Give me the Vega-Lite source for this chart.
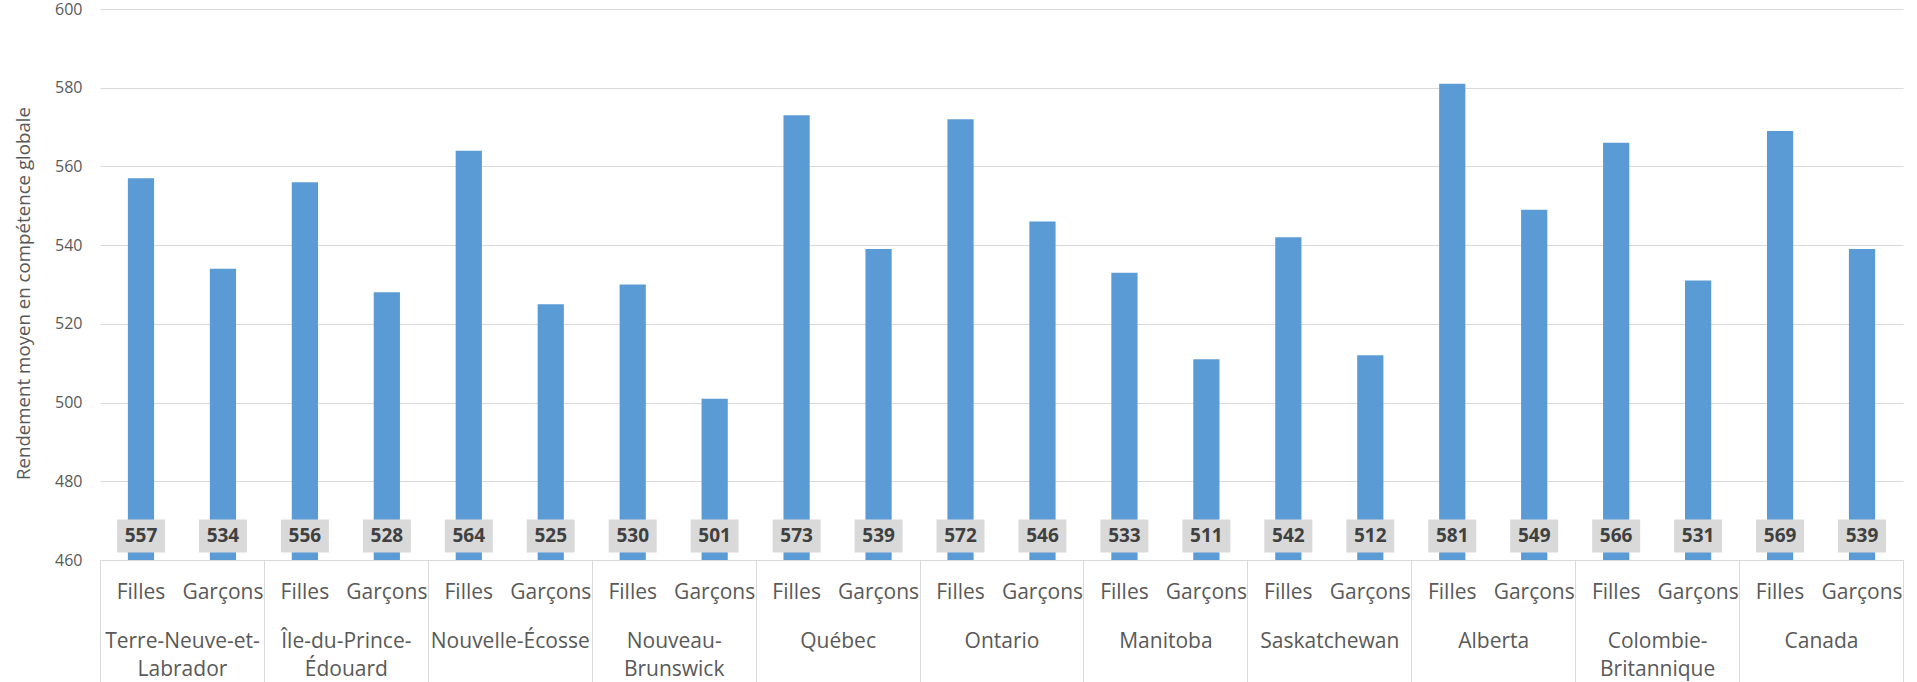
{
  "$schema": "https://vega.github.io/schema/vega-lite/v6.json",
  "autosize": {"type": "none"},
  "width": 1803,
  "height": 551,
  "padding": {"left": 100, "top": 9, "right": 14, "bottom": 122},
  "config": {
    "font": "Open Sans",
    "view": {"stroke": null},
    "axis": {"labelColor": "#595959", "titleColor": "#595959"}
  },
  "data": {
    "values": [
      {"province": "Terre-Neuve-et-Labrador", "sexe": "Filles", "score": 557},
      {"province": "Terre-Neuve-et-Labrador", "sexe": "Garçons", "score": 534},
      {"province": "Île-du-Prince-Édouard", "sexe": "Filles", "score": 556},
      {"province": "Île-du-Prince-Édouard", "sexe": "Garçons", "score": 528},
      {"province": "Nouvelle-Écosse", "sexe": "Filles", "score": 564},
      {"province": "Nouvelle-Écosse", "sexe": "Garçons", "score": 525},
      {"province": "Nouveau-Brunswick", "sexe": "Filles", "score": 530},
      {"province": "Nouveau-Brunswick", "sexe": "Garçons", "score": 501},
      {"province": "Québec", "sexe": "Filles", "score": 573},
      {"province": "Québec", "sexe": "Garçons", "score": 539},
      {"province": "Ontario", "sexe": "Filles", "score": 572},
      {"province": "Ontario", "sexe": "Garçons", "score": 546},
      {"province": "Manitoba", "sexe": "Filles", "score": 533},
      {"province": "Manitoba", "sexe": "Garçons", "score": 511},
      {"province": "Saskatchewan", "sexe": "Filles", "score": 542},
      {"province": "Saskatchewan", "sexe": "Garçons", "score": 512},
      {"province": "Alberta", "sexe": "Filles", "score": 581},
      {"province": "Alberta", "sexe": "Garçons", "score": 549},
      {"province": "Colombie-Britannique", "sexe": "Filles", "score": 566},
      {"province": "Colombie-Britannique", "sexe": "Garçons", "score": 531},
      {"province": "Canada", "sexe": "Filles", "score": 569},
      {"province": "Canada", "sexe": "Garçons", "score": 539}
    ]
  },
  "transform": [
    {"calculate": "datum.province + '|' + datum.sexe", "as": "barre"}
  ],
  "layer": [
    {
      "encoding": {
        "x": {
          "field": "barre",
          "type": "nominal",
          "sort": null,
          "scale": {"paddingInner": 0.68, "paddingOuter": 0.34},
          "axis": {
            "orient": "bottom",
            "title": null,
            "labelAngle": 0,
            "labelExpr": "split(datum.label, '|')[1]",
            "labelFontSize": 21,
            "labelPadding": 21,
            "labelOverlap": false,
            "labelBound": false,
            "ticks": false,
            "domain": true,
            "domainColor": "#D9D9D9",
            "domainWidth": 1,
            "grid": false
          }
        },
        "y": {
          "field": "score",
          "type": "quantitative",
          "scale": {"domain": [460, 600], "nice": false, "zero": false},
          "axis": {
            "title": "Rendement moyen en compétence globale",
            "titleFontSize": 18.7,
            "titleFontWeight": "normal",
            "titlePadding": 21,
            "titleY": 284,
            "values": [460, 480, 500, 520, 540, 560, 580, 600],
            "labelFontSize": 16,
            "labelPadding": 18,
            "ticks": false,
            "domain": false,
            "grid": true,
            "gridColor": "#D9D9D9",
            "gridWidth": 1
          }
        }
      },
      "layer": [
        {
          "mark": {"type": "bar", "color": "#5B9BD5"},
          "encoding": {"y2": {"datum": 460}}
        },
        {
          "mark": {
            "type": "point",
            "shape": "M-1,-0.6875H1V0.6875H-1Z",
            "size": 2304,
            "filled": true,
            "color": "#D9D9D9",
            "opacity": 1,
            "yOffset": -24
          },
          "encoding": {"y": {"datum": 460}}
        },
        {
          "mark": {
            "type": "text",
            "fontSize": 19,
            "fontWeight": "bold",
            "color": "#404040",
            "baseline": "middle",
            "yOffset": -24
          },
          "encoding": {
            "y": {"datum": 460},
            "text": {"field": "score", "type": "quantitative", "format": "d"}
          }
        }
      ]
    },
    {
      "mark": {"type": "text", "text": ""},
      "encoding": {
        "x": {
          "field": "province",
          "type": "nominal",
          "sort": null,
          "scale": {"paddingInner": 0, "paddingOuter": 0},
          "axis": {
            "orient": "bottom",
            "title": null,
            "labelAngle": 0,
            "labelExpr": "length(datum.label) > 15 ? [slice(datum.label, 0, lastindexof(datum.label, '-') + 1), slice(datum.label, lastindexof(datum.label, '-') + 1)] : datum.label",
            "labelFontSize": 21,
            "labelLineHeight": 28,
            "labelPadding": -52,
            "labelOverlap": false,
            "labelBound": false,
            "labelLimit": 0,
            "domain": false,
            "grid": false,
            "ticks": true,
            "tickBand": "extent",
            "tickSize": 122,
            "tickColor": "#D9D9D9",
            "tickWidth": 1
          }
        }
      }
    }
  ],
  "resolve": {"scale": {"x": "independent"}, "axis": {"x": "independent"}}
}
